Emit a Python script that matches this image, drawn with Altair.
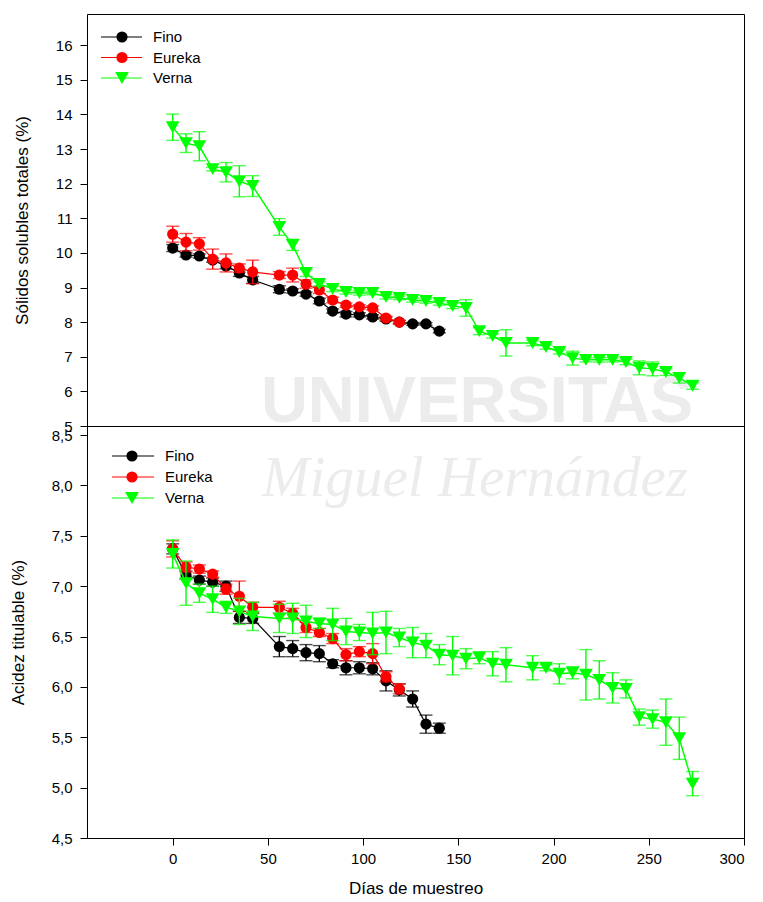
import altair as alt
import pandas as pd

# ---------------- data ----------------
series = ["Fino", "Eureka", "Verna"]
series_colors = ["#000000", "#ff0000", "#00ff00"]
series_shapes = ["circle", "circle", "triangle-down"]

fino_days = [0, 7, 14, 21, 28, 35, 42, 56, 63, 70, 77, 84, 91, 98, 105, 112, 119, 126, 133, 140]
eureka_days = [0, 7, 14, 21, 28, 35, 42, 56, 63, 70, 77, 84, 91, 98, 105, 112, 119]
verna_days = [0, 7, 14, 21, 28, 35, 42,
              56, 63, 70, 77, 84, 91, 98, 105, 112, 119, 126, 133, 140, 147, 154, 161, 168, 175,
              189, 196, 203, 210, 217, 224, 231, 238, 245, 252, 259, 266, 273]

# Sólidos solubles totales (%)
fino_ssc = [10.14, 9.94, 9.91, 9.79, 9.62, 9.42, 9.22, 8.95, 8.90, 8.81, 8.61, 8.32, 8.23, 8.21,
            8.15, 8.09, 8.00, 7.95, 7.95, 7.74]
fino_ssc_err = [0.10, 0.06, 0.06, 0.06, 0.08, 0.10, 0.10, 0.10, 0.06, 0.06, 0.08, 0.06, 0.08, 0.06,
                0.06, 0.06, 0.05, 0.04, 0.04, 0.05]
eureka_ssc = [10.54, 10.31, 10.26, 9.82, 9.71, 9.56, 9.45, 9.36, 9.36, 9.10, 8.93, 8.64, 8.49, 8.44,
              8.41, 8.12, 8.00]
eureka_ssc_err = [0.23, 0.25, 0.18, 0.29, 0.26, 0.12, 0.34, 0.10, 0.20, 0.12, 0.10, 0.08, 0.06, 0.06,
                  0.06, 0.05, 0.05]
verna_ssc = [13.63, 13.17, 13.08, 12.42, 12.33, 12.07, 11.93,
             10.75, 10.23, 9.42, 9.10, 8.96, 8.87, 8.84, 8.84, 8.73, 8.70, 8.64, 8.61, 8.55, 8.47,
             8.41, 7.74, 7.60, 7.40,
             7.40, 7.28, 7.14, 6.96, 6.91, 6.91, 6.91, 6.85, 6.68, 6.65, 6.56, 6.39, 6.16]
verna_ssc_err = [0.38, 0.27, 0.42, 0.05, 0.28, 0.45, 0.30,
                 0.24, 0.16, 0.10, 0.06, 0.08, 0.06, 0.06, 0.05, 0.06, 0.05, 0.06, 0.06, 0.06, 0.08,
                 0.24, 0.10, 0.06, 0.38,
                 0.08, 0.06, 0.06, 0.20, 0.06, 0.06, 0.06, 0.08, 0.20, 0.20, 0.10, 0.15, 0.10]

# Acidez titulable (%)
fino_ta = [7.37, 7.11, 7.06, 7.04, 7.00, 6.69, 6.68, 6.40, 6.38, 6.34, 6.33, 6.23, 6.19, 6.19,
           6.18, 6.06, 5.97, 5.88, 5.63, 5.59]
fino_ta_err = [0.05, 0.04, 0.04, 0.04, 0.05, 0.06, 0.05, 0.10, 0.08, 0.08, 0.08, 0.04, 0.07, 0.06,
               0.06, 0.10, 0.06, 0.08, 0.09, 0.05]
eureka_ta = [7.37, 7.19, 7.17, 7.12, 6.97, 6.90, 6.79, 6.79, 6.73, 6.59, 6.54, 6.48, 6.32, 6.35,
             6.33, 6.10, 5.98]
eureka_ta_err = [0.08, 0.05, 0.04, 0.03, 0.05, 0.15, 0.05, 0.06, 0.05, 0.05, 0.04, 0.05, 0.06, 0.05,
                 0.10, 0.05, 0.05]
verna_ta = [7.32, 7.03, 6.93, 6.87, 6.79, 6.75, 6.70,
            6.68, 6.68, 6.65, 6.63, 6.62, 6.55, 6.54, 6.53, 6.54, 6.49, 6.44, 6.41, 6.32, 6.31,
            6.28, 6.29, 6.23, 6.22,
            6.19, 6.19, 6.13, 6.14, 6.12, 6.07, 5.99, 5.98, 5.70, 5.68, 5.65, 5.49, 5.04]
verna_ta_err = [0.14, 0.22, 0.09, 0.13, 0.06, 0.13, 0.14,
                0.14, 0.15, 0.16, 0.05, 0.16, 0.13, 0.08, 0.21, 0.21, 0.09, 0.15, 0.12, 0.10, 0.19,
                0.10, 0.06, 0.12, 0.17,
                0.12, 0.03, 0.10, 0.06, 0.25, 0.19, 0.15, 0.09, 0.08, 0.09, 0.23, 0.21, 0.12]

x_ticks = [0, 50, 100, 150, 200, 250, 300]
ssc_ticks = [5, 6, 7, 8, 9, 10, 11, 12, 13, 14, 15, 16]
ta_ticks = [4.5, 5.0, 5.5, 6.0, 6.5, 7.0, 7.5, 8.0, 8.5]

watermark_top = "UNIVERSITAS"
watermark_bottom = "Miguel Hernández"

# ---------------- build tables ----------------
all_days = [fino_days, eureka_days, verna_days]


def make_df(values, errors):
    rows = []
    for s, days, vals, errs in zip(series, all_days, values, errors):
        for d, v, e in zip(days, vals, errs):
            rows.append({"Series": s, "day": d, "value": v, "lo": v - e, "hi": v + e})
    return pd.DataFrame(rows)


ssc_df = make_df([fino_ssc, eureka_ssc, verna_ssc], [fino_ssc_err, eureka_ssc_err, verna_ssc_err])
ta_df = make_df([fino_ta, eureka_ta, verna_ta], [fino_ta_err, eureka_ta_err, verna_ta_err])
legend_df = pd.DataFrame({"Series": series})
wm_df = pd.DataFrame({"t": [watermark_top, watermark_bottom]})

# ---------------- layout ----------------
W, H = 657, 412
FONT = "Liberation Sans"
color_scale = alt.Scale(domain=series, range=series_colors)
shape_scale = alt.Scale(domain=series, range=series_shapes)


def panel(df, ydomain, yticks, ytitle, title_x, label_expr, leg, show_x, wm):
    if show_x:
        x_axis = alt.Axis(values=x_ticks, title="Días de muestreo", labelPadding=6,
                          titlePadding=14, domain=False)
    else:
        x_axis = None
    yaxis = alt.Axis(values=yticks, title=ytitle, titleX=title_x, titleBaseline="middle",
                     labelPadding=8, domain=False, labelExpr=label_expr)
    xs = alt.Scale(domain=[-45, 300], nice=False, zero=False)
    ys = alt.Scale(domain=ydomain, nice=False, zero=False)

    def X():
        return alt.X("day:Q", scale=xs, axis=x_axis)

    def Y(f):
        return alt.Y(f, scale=ys, axis=yaxis)

    color = alt.Color("Series:N", scale=color_scale, legend=None)
    shape = alt.Shape("Series:N", scale=shape_scale, legend=None)

    layers = []
    # watermark (faint background text)
    wtext, wx, wy, wfont, wsize, wstyle, wweight = wm
    layers.append(
        alt.Chart(wm_df).transform_filter(alt.datum.t == wtext).mark_text(
            font=wfont, fontSize=wsize, fontStyle=wstyle, fontWeight=wweight,
            color="#ececec", align="center", baseline="middle"
        ).encode(x=alt.value(wx), y=alt.value(wy), text="t:N")
    )

    for i, s in enumerate(series):
        base = alt.Chart(df).transform_filter(alt.datum.Series == s)
        sw = 1.2 if i < 2 else 1.5
        layers.append(base.mark_line(strokeWidth=sw).encode(x=X(), y=Y("value:Q"), color=color))
        layers.append(base.mark_rule(strokeWidth=1.4).encode(
            x=X(), y=Y("lo:Q"), y2="hi:Q", color=color))
        for f in ["lo:Q", "hi:Q"]:
            layers.append(base.mark_tick(orient="horizontal", size=13, thickness=1.4).encode(
                x=X(), y=Y(f), color=color))
        size = 125 if series_shapes[i] == "circle" else 190
        layers.append(base.mark_point(filled=True, opacity=1, size=size, strokeWidth=0).encode(
            x=X(), y=Y("value:Q"), color=color, shape=shape))

    # legend drawn inside the plot (line + marker + label)
    lx0, lx1, lxm, lxt, ly0, ldy = leg
    for i, s in enumerate(series):
        lb = alt.Chart(legend_df).transform_filter(alt.datum.Series == s)
        yy = ly0 + i * ldy
        layers.append(lb.mark_rule(strokeWidth=1.2).encode(
            x=alt.value(lx0), x2=alt.value(lx1), y=alt.value(yy), color=color))
        size = 125 if series_shapes[i] == "circle" else 190
        layers.append(lb.mark_point(filled=True, opacity=1, size=size, strokeWidth=0).encode(
            x=alt.value(lxm), y=alt.value(yy), color=color, shape=shape))
        layers.append(lb.mark_text(align="left", baseline="middle", font=FONT, fontSize=15,
                                   color="black").encode(
            x=alt.value(lxt), y=alt.value(yy), text="Series:N"))

    return alt.layer(*layers).properties(width=W, height=H)


top = panel(ssc_df, [5, 16.9], ssc_ticks, "Sólidos solubles totales (%)", -65,
            "format(datum.value, 'd')", (14, 55, 35, 66, 23, 20.5), False,
            (watermark_top, 390, 388, FONT, 65, "normal", "bold"))
bottom = panel(ta_df, [4.5, 8.59], ta_ticks, "Acidez titulable (%)", -68.5,
               "replace(format(datum.value, '.1f'), '.', ',')", (25, 67, 45, 78, 30, 21), True,
               (watermark_bottom, 388, 53, "Liberation Serif", 57, "italic", "normal"))

chart = alt.vconcat(top, bottom, spacing=0, bounds="flush").properties(
    padding={"left": 1, "top": 5, "right": 5, "bottom": 5}
).configure_view(stroke="black", strokeWidth=1).configure_axis(
    labelFont=FONT, titleFont=FONT, labelFontSize=15, titleFontSize=17,
    labelColor="black", titleColor="black", tickColor="black", tickSize=7,
    tickWidth=1, grid=False, titleFontWeight="normal"
)

chart.save("out.html", embed_options={"renderer": "svg", "actions": False})
